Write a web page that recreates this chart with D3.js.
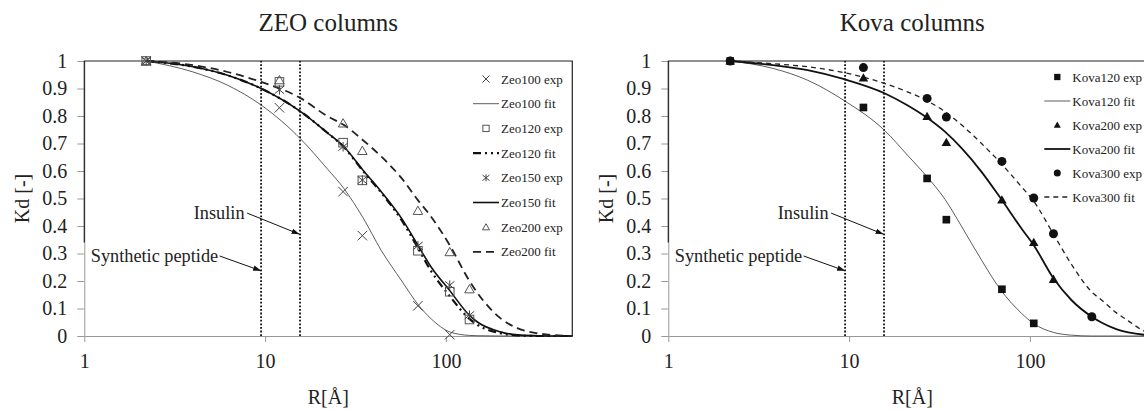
<!DOCTYPE html>
<html>
<head>
<meta charset="utf-8">
<script src="https://cdn.jsdelivr.net/npm/d3@7"></script>
<style>
  body { margin: 0; background: #fff; }
  svg text { font-family: "Liberation Serif", "Times New Roman", serif; fill: #222; }
</style>
</head>
<body>
<svg id="chart" width="1144" height="410"></svg>
<script>
// values (R in Angstrom, Kd dimensionless)
const rTicks = [1, 10, 100];
const kdTicks = [0, 0.1, 0.2, 0.3, 0.4, 0.5, 0.6, 0.7, 0.8, 0.9, 1];
const dottedR = [9.5, 15.6]; // synthetic peptide, insulin

// ZEO columns
const zeoR = [2.2, 12, 27, 34.5, 70, 105, 135];
const zeo100Exp = [1.0, 0.83, 0.525, 0.365, 0.11, 0.005, null];
const zeo120Exp = [1.0, 0.924, 0.703, 0.566, 0.31, 0.161, 0.06];
const zeo150Exp = [1.0, 0.895, 0.688, 0.567, 0.328, 0.185, 0.076];
const zeo200Exp = [1.0, 0.93, 0.773, 0.673, 0.455, 0.305, 0.17];

const zeoFitR = [2.2, 4, 6.2, 9.5, 15.8, 22, 27.3, 34.8, 44, 57, 70, 83, 105, 135, 150, 200, 250, 320, 400, 500];
const zeo100Fit = [1, 0.96, 0.912, 0.84, 0.715, 0.609, 0.536, 0.43, 0.31, 0.2, 0.115, 0.062, 0.015, 0.002, 0.001, 0, 0, 0, 0, 0];
const zeo120Fit = [1, 0.979, 0.948, 0.9, 0.815, 0.74, 0.686, 0.6, 0.52, 0.42, 0.32, 0.235, 0.145, 0.062, 0.04, 0.01, 0.002, 0, 0, 0];
const zeo150Fit = [1, 0.979, 0.948, 0.9, 0.815, 0.74, 0.688, 0.603, 0.524, 0.427, 0.33, 0.25, 0.165, 0.075, 0.05, 0.015, 0.004, 0.001, 0, 0];
const zeo200Fit = [1, 0.985, 0.96, 0.924, 0.864, 0.8, 0.767, 0.712, 0.652, 0.573, 0.494, 0.433, 0.33, 0.2, 0.155, 0.065, 0.028, 0.01, 0.003, 0];

// Kova columns
const kovaR = [2.2, 12, 27, 34.5, 70, 105, 135, 220];
const kova120Exp = [1.0, 0.831, 0.573, 0.423, 0.17, 0.046, null, null];
const kova200Exp = [1.0, 0.938, 0.798, 0.704, 0.495, 0.34, 0.206, null];
const kova300Exp = [1.0, 0.976, 0.864, 0.796, 0.635, 0.502, 0.372, 0.07];

const kovaFitR = [2.2, 3.8, 5.9, 9.5, 15.8, 21, 26.5, 34, 42, 54, 68, 90, 105, 135, 170, 220, 250, 300, 350, 435, 500];
const kova120Fit = [1, 0.973, 0.93, 0.854, 0.746, 0.658, 0.585, 0.496, 0.397, 0.276, 0.173, 0.082, 0.045, 0.013, 0.003, 0, 0, 0, 0, 0, 0];
const kova200Fit = [1, 0.985, 0.967, 0.933, 0.882, 0.839, 0.797, 0.742, 0.682, 0.597, 0.506, 0.39, 0.33, 0.21, 0.13, 0.07, 0.048, 0.025, 0.013, 0.004, 0.002];
const kova300Fit = [1, 0.99, 0.979, 0.957, 0.918, 0.888, 0.858, 0.815, 0.767, 0.7, 0.633, 0.542, 0.49, 0.37, 0.26, 0.16, 0.13, 0.085, 0.055, 0.016, 0.006];

// annotation anchors in data units [R, Kd]
const insulinText = [7.7, 0.425];
const insulinArrow = [[7.95, 0.447], [15.5, 0.37]];
const peptideText = [5.5, 0.27];
const peptideArrow = [[5.6, 0.291], [9.5, 0.237]];

const panels = [
  {
    title: 'ZEO columns', left: 84.3, legendX: 416.7, legendY: 79, legendStep: 24.7,
    series: [
      {name: 'Zeo100 exp', r: zeoR, kd: zeo100Exp, marker: 'x'},
      {name: 'Zeo100 fit', r: zeoFitR, kd: zeo100Fit, width: 0.8, color: '#333'},
      {name: 'Zeo120 exp', r: zeoR, kd: zeo120Exp, marker: 'square'},
      {name: 'Zeo120 fit', r: zeoFitR, kd: zeo120Fit, width: 2.2, dash: '8,4,2,4,2,4', color: '#111'},
      {name: 'Zeo150 exp', r: zeoR, kd: zeo150Exp, marker: 'star'},
      {name: 'Zeo150 fit', r: zeoFitR, kd: zeo150Fit, width: 1.6, color: '#111'},
      {name: 'Zeo200 exp', r: zeoR, kd: zeo200Exp, marker: 'triangle'},
      {name: 'Zeo200 fit', r: zeoFitR, kd: zeo200Fit, width: 1.8, dash: '8,5', color: '#222'}
    ]
  },
  {
    // legend nudged a few px left so the long labels stay inside the window
    title: 'Kova columns', left: 668.3, legendX: 404, legendY: 77, legendStep: 24,
    series: [
      {name: 'Kova120 exp', r: kovaR, kd: kova120Exp, marker: 'fsquare'},
      {name: 'Kova120 fit', r: kovaFitR, kd: kova120Fit, width: 0.8, color: '#333'},
      {name: 'Kova200 exp', r: kovaR, kd: kova200Exp, marker: 'ftriangle'},
      {name: 'Kova200 fit', r: kovaFitR, kd: kova200Fit, width: 1.8, color: '#111'},
      {name: 'Kova300 exp', r: kovaR, kd: kova300Exp, marker: 'circle'},
      {name: 'Kova300 fit', r: kovaFitR, kd: kova300Fit, width: 1.3, dash: '5,4', color: '#222'}
    ]
  }
];

const svg = d3.select('#chart');
const plotW = 488, plotTop = 61, plotBottom = 336;

svg.append('defs').append('marker')
  .attr('id', 'arrow')
  .attr('viewBox', '0 0 10 10')
  .attr('refX', 10).attr('refY', 5)
  .attr('markerWidth', 8).attr('markerHeight', 8)
  .attr('markerUnits', 'userSpaceOnUse')
  .attr('orient', 'auto')
  .append('path').attr('d', 'M0,1.5 L10,5 L0,8.5 Z').attr('fill', '#111');

function drawMarker(g, type, cx, cy, s) {
  const h = s / 2;
  if (type === 'x') {
    g.append('path').attr('d', `M${cx-h},${cy-h}L${cx+h},${cy+h}M${cx+h},${cy-h}L${cx-h},${cy+h}`)
      .attr('stroke', '#444').attr('stroke-width', 1).attr('fill', 'none');
  } else if (type === 'star') {
    g.append('path').attr('d', `M${cx-h},${cy-h*0.8}L${cx+h},${cy+h*0.8}M${cx+h},${cy-h*0.8}L${cx-h},${cy+h*0.8}M${cx},${cy-h}L${cx},${cy+h}`)
      .attr('stroke', '#444').attr('stroke-width', 1).attr('fill', 'none');
  } else if (type === 'square') {
    g.append('rect').attr('x', cx - h * 0.9).attr('y', cy - h * 0.9).attr('width', s * 0.9).attr('height', s * 0.9)
      .attr('stroke', '#555').attr('stroke-width', 1).attr('fill', 'none');
  } else if (type === 'triangle') {
    g.append('path').attr('d', `M${cx},${cy-h}L${cx+h},${cy+h*0.75}L${cx-h},${cy+h*0.75}Z`)
      .attr('stroke', '#555').attr('stroke-width', 1).attr('fill', 'none');
  } else if (type === 'fsquare') {
    g.append('rect').attr('x', cx - h * 0.9).attr('y', cy - h * 0.9).attr('width', s * 0.9).attr('height', s * 0.9)
      .attr('fill', '#111');
  } else if (type === 'ftriangle') {
    g.append('path').attr('d', `M${cx},${cy-h}L${cx+h},${cy+h*0.75}L${cx-h},${cy+h*0.75}Z`).attr('fill', '#111');
  } else if (type === 'circle') {
    g.append('circle').attr('cx', cx).attr('cy', cy).attr('r', h).attr('fill', '#111');
  }
}

panels.forEach(p => {
  const x = d3.scaleLog().domain([1, 500]).range([p.left, p.left + plotW]);
  const y = d3.scaleLinear().domain([0, 1]).range([plotBottom, plotTop]);
  const g = svg.append('g');

  // gray axes
  const xAxis = g.append('g').attr('transform', `translate(0,${plotBottom})`)
    .call(d3.axisBottom(x).tickValues(rTicks).tickFormat(d3.format('d')).tickSize(6).tickSizeOuter(0).tickPadding(12));
  const yAxis = g.append('g').attr('transform', `translate(${p.left},0)`)
    .call(d3.axisLeft(y).tickValues(kdTicks).tickFormat(d => (d === 0 || d === 1) ? d : d3.format('.1f')(d)).tickSize(7).tickSizeOuter(0).tickPadding(10));
  [xAxis, yAxis].forEach(a => {
    a.select('.domain').attr('stroke', '#999');
    a.selectAll('.tick line').attr('stroke', '#999');
    a.selectAll('.tick text').attr('font-size', 20).attr('fill', '#222')
      .attr('font-family', '"Liberation Serif", serif');
  });

  // black plot border (lower left part hidden behind the label box in the original)
  g.append('path')
    .attr('d', `M${p.left},${y(0.34)}L${p.left},${plotTop}L${p.left + plotW},${plotTop}L${p.left + plotW},${plotBottom}`)
    .attr('fill', 'none').attr('stroke', '#222').attr('stroke-width', 1.2);

  // titles
  g.append('text').attr('x', p.left + plotW / 2).attr('y', 31).attr('text-anchor', 'middle')
    .attr('font-size', 25).text(p.title);
  g.append('text').attr('x', p.left + plotW / 2).attr('y', 404).attr('text-anchor', 'middle')
    .attr('font-size', 20).text('R[Å]');
  g.append('text').attr('transform', `translate(${p.left - 62},${(plotTop + plotBottom) / 2}) rotate(-90)`)
    .attr('text-anchor', 'middle').attr('dominant-baseline', 'central')
    .attr('font-size', 20).text('Kd [-]');

  // dotted marker lines
  dottedR.forEach(r => {
    g.append('line').attr('x1', x(r)).attr('x2', x(r)).attr('y1', y(0)).attr('y2', y(1))
      .attr('stroke', '#111').attr('stroke-width', 1.8).attr('stroke-dasharray', '1.8,1.8');
  });

  // fit curves
  const line = d3.line().x(d => x(d[0])).y(d => y(d[1])).curve(d3.curveMonotoneX);
  p.series.filter(s => !s.marker).forEach(s => {
    g.append('path').datum(d3.zip(s.r, s.kd))
      .attr('d', line).attr('fill', 'none')
      .attr('stroke', s.color).attr('stroke-width', s.width)
      .attr('stroke-dasharray', s.dash || null);
  });

  // experimental points
  p.series.filter(s => s.marker).forEach(s => {
    s.r.forEach((r, i) => {
      if (s.kd[i] == null) return;
      const sz = s.marker === 'circle' ? 9 : (s.marker === 'fsquare' ? 8.5 : 9.5);
      drawMarker(g, s.marker, x(r), y(s.kd[i]), sz);
    });
  });

  // annotations
  g.append('text').attr('x', x(insulinText[0])).attr('y', y(insulinText[1]))
    .attr('text-anchor', 'end').attr('font-size', 18.3).text('Insulin');
  g.append('text').attr('x', x(peptideText[0])).attr('y', y(peptideText[1]))
    .attr('text-anchor', 'end').attr('font-size', 18.3).text('Synthetic peptide');
  [insulinArrow, peptideArrow].forEach(a => {
    g.append('line')
      .attr('x1', x(a[0][0])).attr('y1', y(a[0][1]))
      .attr('x2', x(a[1][0])).attr('y2', y(a[1][1]))
      .attr('stroke', '#111').attr('stroke-width', 1).attr('marker-end', 'url(#arrow)');
  });

  // legend
  p.series.forEach((s, i) => {
    const ly = p.legendY + i * p.legendStep;
    const lx = p.left + p.legendX;
    if (s.marker) {
      drawMarker(g, s.marker, lx - 15, ly, 7);
    } else {
      g.append('line').attr('x1', lx - 28).attr('x2', lx - 2).attr('y1', ly).attr('y2', ly)
        .attr('stroke', s.color).attr('stroke-width', s.width)
        .attr('stroke-dasharray', s.dash || null);
    }
    g.append('text').attr('x', lx).attr('y', ly).attr('dominant-baseline', 'central')
      .attr('font-size', 13).text(s.name);
  });
});
</script>
</body>
</html>
